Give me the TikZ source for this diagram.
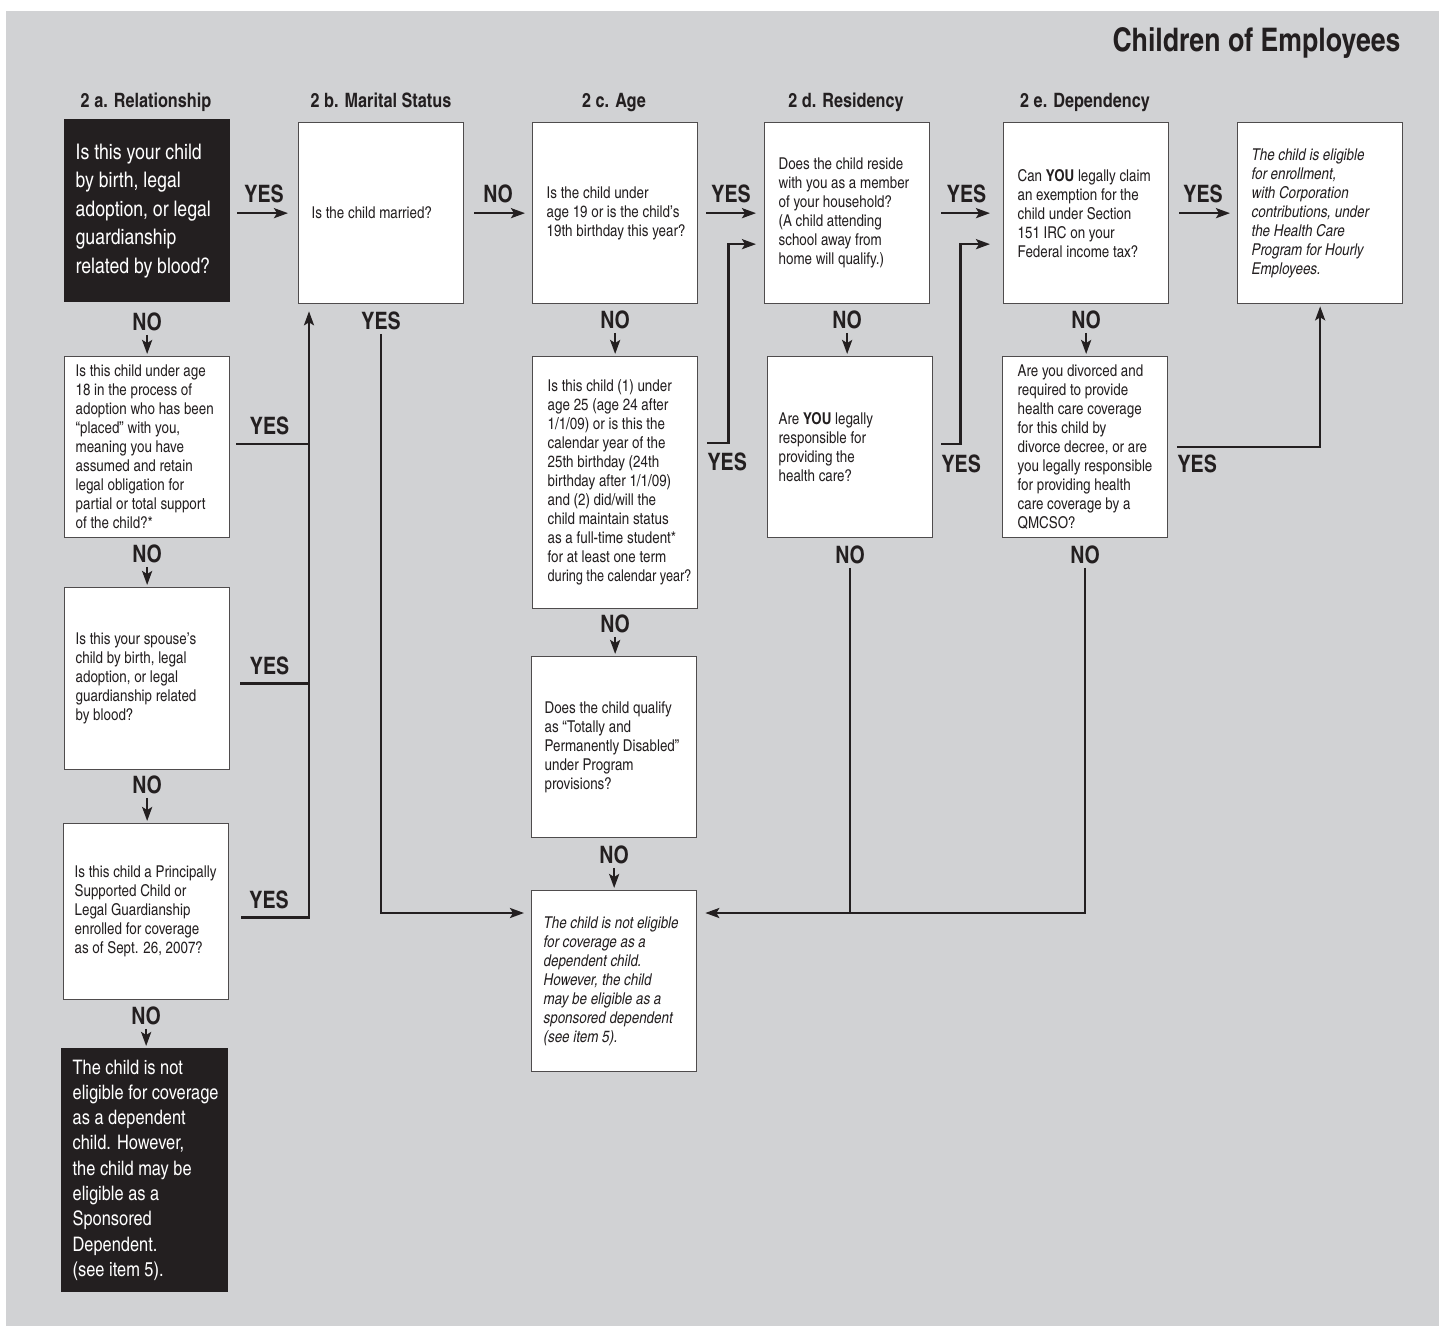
\documentclass[tikz,border=0pt]{standalone}
\usepackage{fontspec}
\setmainfont{texgyreheroscn}[Extension=.otf, UprightFont=*-regular, BoldFont=*-bold, ItalicFont=*-italic, BoldItalicFont=*-bolditalic]
\usetikzlibrary{arrows.meta,calc,positioning}

\definecolor{panel}{HTML}{D1D2D4}
\definecolor{ink}{HTML}{231F20}

\begin{document}
\begin{tikzpicture}[
		x=1pt, y=-1pt,
		line cap=butt, line join=miter,
		>={Stealth[length=14pt,width=10pt,inset=3pt]},
		% --- boxes, labels and connectors ---
		qbox/.style={draw=ink!80, line width=1.3pt, fill=white, text=ink,
			anchor=north west, minimum width=165pt, minimum height=181pt,
			inner xsep=11pt, inner ysep=0pt, text width=143pt, align=flush left,
			font=\fontsize{16.3}{19}\selectfont},
		itbox/.style={qbox, font=\fontsize{16.3}{19}\selectfont\itshape},
		blackbox/.style={qbox, draw=ink, fill=ink, text=white,
			font=\fontsize{21.5}{28.5}\selectfont},
		yn/.style={inner sep=0pt, text=ink, font=\fontsize{24}{24}\selectfont\bfseries},
		colhead/.style={anchor=base, text=ink, font=\fontsize{19.8}{20}\selectfont\bfseries},
		wire/.style={draw=ink, line width=2.4pt},
		link/.style={wire, ->}
		]
		
		% ---------- Page and panel ----------
		\useasboundingbox (0,0) rectangle (1439,1338);
		\fill[panel] (6,11) rectangle (1439,1326);
		\node[anchor=base east, text=ink, font=\fontsize{32.5}{33}\selectfont\bfseries]
		(title) at (1404,52) {Children of Employees};
		
		% ---------- Column heads ----------
		\node[colhead] (hA) at (146,107) {2 a. Relationship};
		\node[colhead] (hB) at (381,107) {2 b. Marital Status};
		\node[colhead] (hC) at (614,107) {2 c. Age};
		\node[colhead] (hD) at (846,107) {2 d. Residency};
		\node[colhead] (hE) at (1085,107) {2 e. Dependency};
		
		% ---------- Top row ----------
		\node[blackbox, minimum height=182pt] (A1) at (64,119)
		{Is this your child\\by birth, legal\\adoption, or legal\\guardianship\\related by blood?};
		\node[qbox, inner xsep=13pt, text width=139pt] (B1) at (298,122) {Is the child married?};
		\node[qbox, inner xsep=14pt, text width=137pt] (C1) at (532,122)
		{Is the child under\\\mbox{age 19 or is the child’s}\\\mbox{19th birthday this year?}};
		\node[qbox, inner xsep=14pt, text width=137pt] (D1) at (764,122)
		{Does the child reside\\with you as a member\\of your household?\\(A child attending\\school away from\\home will qualify.)};
		\node[qbox, inner xsep=14pt, text width=137pt] (E1) at (1003,122)
		{Can \textbf{YOU} legally claim\\an exemption for the\\child under Section\\151 IRC on your\\Federal income tax?};
		\node[itbox, inner xsep=14pt, text width=137pt] (F1) at (1237,122)
		{The child is eligible\\for enrollment,\\with Corporation\\contributions, under\\the Health Care\\Program for Hourly\\Employees.};
		
		% ---------- Relationship column ----------
		\node[qbox] (A2) at (64,356)
		{Is this child under age\\18 in the process of\\adoption who has been\\“placed” with you,\\meaning you have\\assumed and retain\\legal obligation for\\partial or total support\\of the child?*};
		\node[qbox, minimum height=182pt] (A3) at (64,587)
		{Is this your spouse’s\\child by birth, legal\\adoption, or legal\\guardianship related\\by blood?};
		\node[qbox, minimum height=176pt] (A4) at (63,823)
		{\mbox{Is this child a Principally}\\Supported Child or\\Legal Guardianship\\enrolled for coverage\\as of Sept. 26, 2007?};
		\node[blackbox, minimum height=243pt, minimum width=166pt, text width=144pt,
		font=\fontsize{20}{25.3}\selectfont] (A5) at (61,1048)
		{The child is not\\\mbox{eligible for coverage}\\as a dependent\\child. However,\\the child may be\\eligible as a\\Sponsored\\Dependent.\\(see item 5).};
		
		% ---------- Age column ----------
		\node[qbox, inner xsep=15pt, text width=135pt, minimum height=252pt] (C2) at (532,356)
		{Is this child (1) under\\age 25 (age 24 after\\1/1/09) or is this the\\calendar year of the\\25th birthday (24th\\\mbox{birthday after 1/1/09)}\\and (2) did/will the\\child maintain status\\\mbox{as a full-time student*}\\for at least one term\\\scalebox{0.95}[1]{during the calendar year?}};
		\node[qbox, inner xsep=13pt, text width=139pt] (C3) at (531,656)
		{Does the child qualify\\as “Totally and\\\mbox{Permanently Disabled”}\\under Program\\provisions?};
		\node[itbox, inner xsep=12pt, text width=141pt] (C4) at (531,890)
		{The child is not eligible\\for coverage as a\\dependent child.\\However, the child\\may be eligible as a\\sponsored dependent\\(see item 5).};
		
		% ---------- Residency / dependency second row ----------
		\node[qbox] (D2) at (767,356)
		{Are \textbf{YOU} legally\\responsible for\\providing the\\health care?};
		\node[qbox, inner xsep=15pt, text width=135pt] (E2) at (1002,356)
		{Are you divorced and\\required to provide\\health care coverage\\for this child by\\\mbox{divorce decree, or are}\\\mbox{you legally responsible}\\for providing health\\care coverage by a\\QMCSO?};
		
		% ---------- YES arrows along the top row ----------
		\draw[link, shorten <=7pt, shorten >=10pt] (A1.east |- B1.west) -- (B1.west)
		node[yn, midway, above=9pt] (yesA1) {YES};
		\draw[link, shorten <=10pt, shorten >=7pt] (B1) -- (C1)
		node[yn, midway, above=9pt] (noB1) {NO};
		\draw[link, shorten <=8pt, shorten >=8pt] (C1) -- (D1)
		node[yn, midway, above=9pt] (yesC1) {YES};
		\draw[link, shorten <=11pt, shorten >=13pt] (D1) -- (E1)
		node[yn, midway, above=9pt] (yesD1) {YES};
		\draw[link, shorten <=10pt, shorten >=7pt] (E1) -- (F1)
		node[yn, midway, above=9pt] (yesE1) {YES};
		
		% ---------- NO arrows going down ----------
		\node[yn, below=10pt of A1] (noA1) {NO};
		\draw[link, shorten <=4pt, shorten >=2pt] (noA1) -- (noA1 |- A2.north);
		\node[yn, below=6pt of A2] (noA2) {NO};
		\draw[link, shorten <=4pt, shorten >=2pt] (noA2) -- (noA2 |- A3.north);
		\node[yn, below=5pt of A3] (noA3) {NO};
		\draw[link, shorten <=4pt, shorten >=2pt] (noA3) -- (noA3 |- A4.north);
		\node[yn, below=6pt of A4] (noA4) {NO};
		\draw[link, shorten <=4pt, shorten >=2pt] (noA4) -- (noA4 |- A5.north);
		\node[yn, below=6pt of C1] (noC1) {NO};
		\draw[link, shorten <=4pt, shorten >=2pt] (noC1) -- (noC1 |- C2.north);
		\node[yn, below=5pt of C2] (noC2) {NO};
		\draw[link, shorten <=4pt, shorten >=2pt] (noC2) -- (noC2 |- C3.north);
		\node[yn, below=7pt of C3] (noC3) {NO};
		\draw[link, shorten <=4pt, shorten >=2pt] (noC3) -- (noC3 |- C4.north);
		\node[yn, below=6pt of D1] (noD1) {NO};
		\draw[link, shorten <=4pt, shorten >=2pt] (noD1) -- (noD1 |- D2.north);
		\node[yn, below=6pt of E1] (noE1) {NO};
		\draw[link, shorten <=4pt, shorten >=2pt] (noE1) -- (noE1 |- E2.north);
		
		% ---------- YES branches back to marital status ----------
		\coordinate (bus) at (309,0);
		\draw[wire, shorten <=6pt] ($(A2.east)+(0,-3)$) -- ($(A2.east -| bus)+(0,-3)$)
		node[yn, midway, above=8pt] (yesA2) {YES};
		\draw[wire, shorten <=10pt] ($(A3.east)+(0,5)$) -- ($(A3.east -| bus)+(0,5)$)
		node[yn, midway, above=8pt] (yesA3) {YES};
		\draw[link, shorten <=12pt, shorten >=7pt] ($(A4.east)+(0,6)$) -| (bus |- B1.south)
		node[yn, pos=0.25, above=8pt] (yesA4) {YES};
		
		% ---------- Paths to "not eligible" ----------
		\coordinate (c4inL) at ($(C4.north west)+(0,23)$);
		\coordinate (c4inR) at ($(C4.north east)+(0,23)$);
		\node[yn, below=7pt of B1] (yesB1) {YES};
		\draw[link, shorten <=4pt, shorten >=7pt] (yesB1) |- (c4inL);
		\node[yn, below=7pt of D2] (noD2) {NO};
		\draw[wire, shorten <=4pt] (noD2) -- (noD2 |- c4inR);
		\node[yn, below=7pt of E2] (noE2) {NO};
		\draw[link, shorten <=4pt, shorten >=8pt] (noE2) |- (c4inR);
		
		% ---------- YES branches forward ----------
		\draw[link, shorten <=9pt, shorten >=8pt] ($(C2.north east)+(0,87)$) -- ++(30,0)
		|- ($(D1.west)+(0,31)$);
		\node[yn, anchor=north west] (yesC2) at ($(C2.north east)+(9,97)$) {YES};
		\draw[link, shorten <=8pt, shorten >=13pt] ($(D2.east)+(0,-3)$) -- ++(27,0)
		|- ($(E1.west)+(0,31)$);
		\node[yn, anchor=north west] (yesD2) at ($(D2.east)+(8,7)$) {YES};
		\draw[link, shorten <=9pt, shorten >=2pt] (E2.east) -| (F1.south);
		\node[yn, anchor=north west] (yesE2) at ($(E2.east)+(9,7)$) {YES};
		
	\end{tikzpicture}
\end{document}
